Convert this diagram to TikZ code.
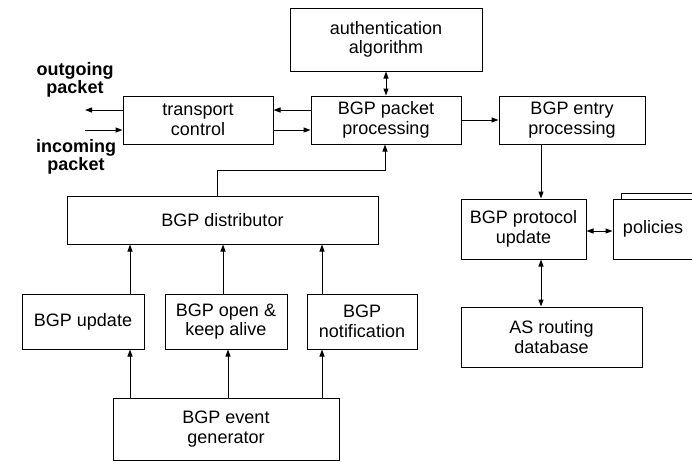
\documentclass[tikz,border=0pt]{standalone}
\usepackage{fontspec}
\setmainfont{Liberation Sans}
\usetikzlibrary{arrows.meta}
\begin{document}
\begin{tikzpicture}[x=1pt,y=-1pt,
  every node/.style={font=\fontsize{18}{19.5}\selectfont},
  blk/.style={draw,line width=1pt,align=center,inner sep=0pt},
  lbl/.style={font=\fontsize{18}{16}\selectfont\bfseries,align=center,inner sep=0pt},
  link/.style={line width=1pt,-{Triangle[length=7pt,width=5pt]}},
  dlink/.style={line width=1pt,{Triangle[length=7pt,width=5pt]}-{Triangle[length=7pt,width=5pt]}}]
\clip (0,0) rectangle (692,461);
\useasboundingbox (0,0) rectangle (692,461);

% top row
\node[blk,minimum width=192pt,minimum height=63pt] (auth) at (386,39.5) {authentication\\algorithm};
\node[blk,minimum width=150pt,minimum height=48pt] (pkt) at (386,120) {BGP packet\\processing};
\node[blk,minimum width=150pt,minimum height=48pt] (trans) at (198,120) {transport\\control};
\node[blk,minimum width=146pt,minimum height=48pt] (entry) at (572,120) {BGP entry\\processing};

\node[lbl] (outl) at (75,80) {outgoing\\packet};
\node[lbl] (inl) at (76,157) {incoming\\packet};

% left column
\node[blk,minimum width=311pt,minimum height=48pt] (dist) at (222.5,220) {BGP distributor};
\node[blk,minimum width=122pt,minimum height=55pt] (upd) at (83,321.5) {BGP update};
\node[blk,minimum width=122pt,minimum height=55pt] (open) at (226,321.5) {BGP open \&\\keep alive};
\node[blk,minimum width=110pt,minimum height=55pt] (notif) at (362,321.5) {BGP\\notification};
\node[blk,minimum width=226pt,minimum height=62pt] (gen) at (226,429) {BGP event\\generator};

% right column: policies is a stack of sheets running off the right edge
\node[blk,minimum width=125pt,minimum height=60pt] (proto) at (523.5,229) {BGP protocol\\update};
\draw[line width=1pt] (621,199) -- (621,193) -- (740,193);
\node[blk,fill=white,minimum width=147pt,minimum height=60pt] (pol) at (686.5,229) {};
\node (poltext) at (653,229) {policies};
\node[blk,minimum width=181pt,minimum height=60pt] (asdb) at (551.5,337) {AS routing\\database};

% connectors
\coordinate (out) at (85,110);
\coordinate (in) at (85,130);
\coordinate (bend) at (217,170);

\draw[dlink] (auth.south) -- (pkt.north);
\draw[link] (pkt.west |- out) -- (trans.east |- out);
\draw[link] (trans.east |- in) -- (pkt.west |- in);
\draw[link] (trans.west |- out) -- (out);
\draw[link] (in) -- (trans.west |- in);
\draw[link] (pkt) -- (entry);
\draw[link] (entry.south -| 541,0) -- (proto.north -| 541,0);
\draw[link] (dist.north -| bend) -- (bend) -- (bend -| 385,0) -- (pkt.south -| 385,0);

\draw[link] (upd.north -| 130,0) -- (dist.south -| 130,0);
\draw[link] (open.north -| 223,0) -- (dist.south -| 223,0);
\draw[link] (notif.north -| 322,0) -- (dist.south -| 322,0);
\draw[link] (gen.north -| 130,0) -- (upd.south -| 130,0);
\draw[link] (gen.north -| 228,0) -- (open.south -| 228,0);
\draw[link] (gen.north -| 322,0) -- (notif.south -| 322,0);

\draw[dlink] (proto.east |- 0,231) -- (pol.west |- 0,231);
\draw[dlink] (proto.south -| 541,0) -- (asdb.north -| 541,0);
\end{tikzpicture}
\end{document}
